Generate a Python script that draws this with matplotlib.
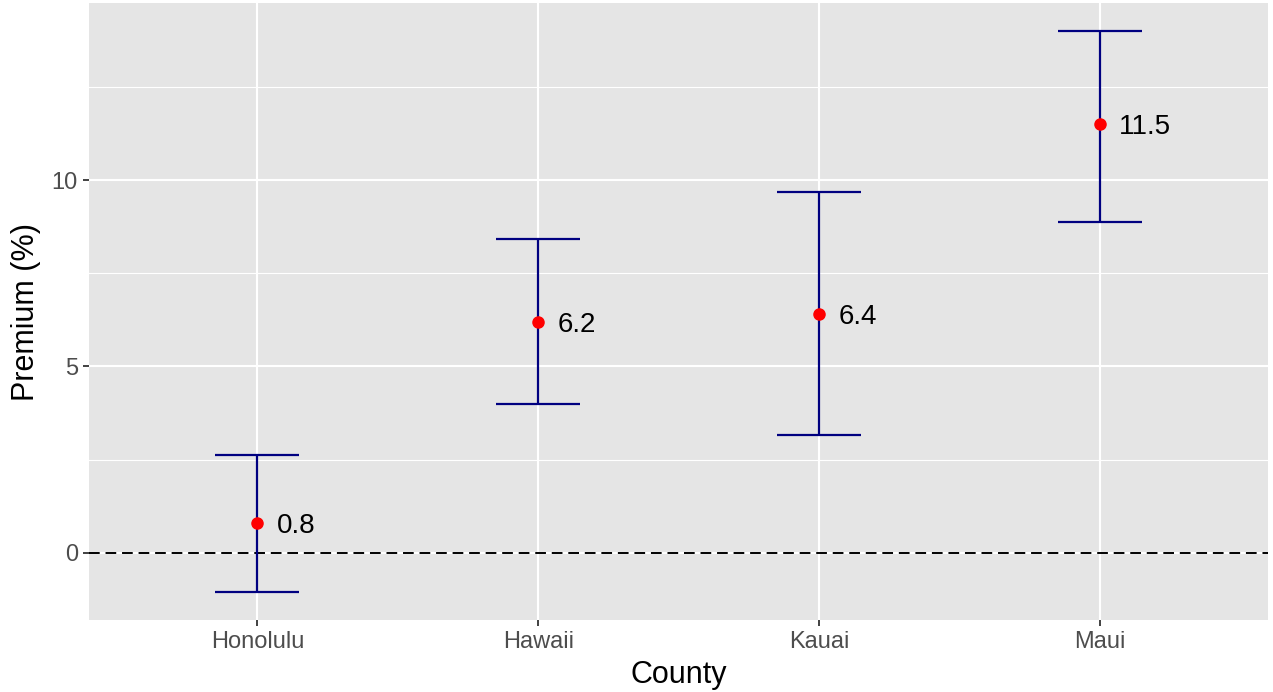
import matplotlib
matplotlib.use("Agg")
import matplotlib.pyplot as plt
import numpy as np

counties = ["Honolulu", "Hawaii", "Kauai", "Maui"]
premium = [0.8, 6.2, 6.4, 11.5]
lower = [-1.05, 3.98, 3.17, 8.87]
upper = [2.63, 8.41, 9.68, 14.0]

plt.rcParams["font.family"] = ["Liberation Sans", "DejaVu Sans"]

fig = plt.figure(figsize=(12.73, 6.92), dpi=100)
ax = fig.add_axes([89 / 1273, 1 - 620 / 692, (1268 - 89) / 1273, (620 - 3) / 692])
ax.set_facecolor("#E5E5E5")
for s in ax.spines.values():
    s.set_visible(False)

x = np.arange(len(counties))
prem = np.array(premium)
lo = np.array(lower)
hi = np.array(upper)

# panel grid
ax.set_yticks([0, 5, 10])
ax.set_yticks([2.5, 7.5, 12.5], minor=True)
ax.set_xticks(x)
ax.set_xticklabels(counties)
ax.grid(True, which="major", color="white", linewidth=1.5, zorder=0)
ax.grid(True, which="minor", axis="y", color="white", linewidth=0.8, zorder=0)
ax.set_axisbelow(True)

# reference line at zero
ax.axhline(0, color="black", linestyle=(0, (5.5, 3)), linewidth=1.4, zorder=2)

# confidence intervals and point estimates
ax.errorbar(x, prem, yerr=[prem - lo, hi - prem], fmt="none", ecolor="#000080",
            elinewidth=1.6, capsize=30, capthick=1.6, zorder=3)
ax.plot(x, prem, "o", color="red", markersize=8, zorder=4)

for xi, v in zip(x, prem):
    ax.text(xi + 0.07, v, f"{v:.1f}", ha="left", va="center_baseline", fontsize=20,
            color="black", zorder=5)

ymin = min(lower); ymax = max(upper)
pad = 0.05 * (ymax - ymin)
ax.set_ylim(ymin - pad, ymax + pad)
ax.set_xlim(-0.6, len(counties) - 0.4)

ax.tick_params(axis="both", which="major", colors="#333333", labelcolor="#4D4D4D",
               labelsize=17, length=4, width=1.3, pad=4)
ax.tick_params(axis="both", which="minor", length=0)
ax.set_xlabel("County", fontsize=22, color="black", labelpad=5)
ax.set_ylabel("Premium (%)", fontsize=22, color="black", labelpad=8)

fig.savefig("out.png", dpi=100, facecolor="white")
